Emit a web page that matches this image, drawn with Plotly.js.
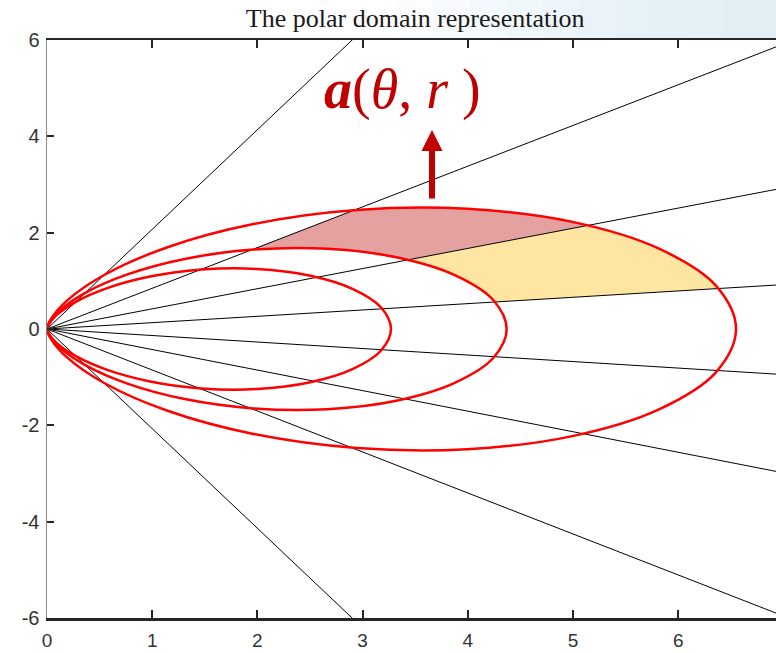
<!DOCTYPE html>
<html>
<head>
<meta charset="utf-8">
<script src="https://cdn.plot.ly/plotly-3.0.1.min.js"></script>
<style>html,body{margin:0;padding:0;background:#fff;}#chart{width:776px;height:653px;}</style>
</head>
<body>
<div id="chart"></div>
<script>
// Ray directions from the origin (degrees)
const rayAnglesDeg = [64.2, 40.2, 22.7, 7.5, -7.7, -23.1, -40.4, -64.2];

// Upper halves of the three closed curves (from the right tip back to the origin); lower halves are mirror images
const innerX = [3.27, 3.176, 2.904, 2.493, 1.994, 1.470, 0.980, 0.572, 0.275, 0.096, 0.017, 0];
const innerY = [0, 0.446, 0.833, 1.110, 1.246, 1.233, 1.088, 0.848, 0.565, 0.297, 0.097, 0];
const middleX = [4.37, 4.244, 3.881, 3.332, 2.665, 1.964, 1.309, 0.764, 0.368, 0.129, 0.023, 0];
const middleY = [0, 0.597, 1.113, 1.484, 1.665, 1.648, 1.454, 1.133, 0.755, 0.397, 0.130, 0];
const outerX = [6.55, 6.361, 5.818, 4.994, 3.995, 2.944, 1.962, 1.146, 0.552, 0.193, 0.034, 0];
const outerY = [0, 0.894, 1.668, 2.224, 2.496, 2.471, 2.179, 1.698, 1.131, 0.595, 0.195, 0];

// Highlighted cell a(θ, r): upper (pink) and lower (yellow) sectors
const pinkX = [1.947, 2.919, 3.468, 3.995, 4.509, 4.876, 5.143, 3.431, 3.253, 3.008, 2.665, 2.314, 1.947];
const pinkY = [1.646, 2.466, 2.520, 2.496, 2.397, 2.274, 2.151, 1.435, 1.517, 1.599, 1.666, 1.681, 1.646];
const yellowX = [3.431, 5.143, 5.537, 5.903, 6.196, 6.383, 4.259, 4.134, 3.938, 3.694, 3.431];
const yellowY = [1.435, 2.151, 1.907, 1.582, 1.204, 0.840, 0.561, 0.804, 1.055, 1.272, 1.435];

const labelText = '<b><i>a</i></b>(<i>θ</i>, <i>r</i> )';
const arrowTip = [3.66, 4.13];
const arrowTail = [3.66, 2.68];
const labelPos = [3.38, 4.97];

function closedCurve(ux, uy) {
  const xs = ux.slice().reverse().concat(ux.slice(1));
  const ys = uy.slice().reverse().concat(uy.slice(1).map(v => -v));
  return {xs, ys};
}

const traces = [];

traces.push({x: pinkX, y: pinkY, mode: 'lines', fill: 'toself', fillcolor: '#E5A0A0',
  line: {width: 0, color: 'rgba(0,0,0,0)'}, hoverinfo: 'skip', showlegend: false});
traces.push({x: yellowX, y: yellowY, mode: 'lines', fill: 'toself', fillcolor: '#FEE6A2',
  line: {width: 0, color: 'rgba(0,0,0,0)'}, hoverinfo: 'skip', showlegend: false});

// rays
const rx = [], ry = [];
rayAnglesDeg.forEach(a => {
  const t = a * Math.PI / 180;
  rx.push(0, 20 * Math.cos(t), null);
  ry.push(0, 20 * Math.sin(t), null);
});
traces.push({x: rx, y: ry, mode: 'lines', line: {color: '#000', width: 1}, hoverinfo: 'skip', showlegend: false});

[[innerX, innerY], [middleX, middleY], [outerX, outerY]].forEach(([ux, uy]) => {
  const c = closedCurve(ux, uy);
  traces.push({x: c.xs, y: c.ys, mode: 'lines', line: {color: '#FF0000', width: 2.5, shape: 'spline', smoothing: 1},
    hoverinfo: 'skip', showlegend: false});
});

// faint bluish header shading (top right of the source slide)
const shapes = [];
for (let i = 0; i < 10; i++) {
  shapes.push({type: 'rect', xref: 'paper', yref: 'paper', x0: 0.48 + i * 0.05, x1: 1.0, y0: 1.004, y1: 1.08,
    fillcolor: 'rgb(214,228,244)', opacity: 0.09, line: {width: 0}, layer: 'below'});
}

const layout = {
  width: 776, height: 653,
  margin: {l: 47, r: 0, t: 40, b: 35},
  paper_bgcolor: '#fff', plot_bgcolor: '#fff',
  showlegend: false,
  shapes: shapes,
  title: {text: 'The polar domain representation', x: 0.535, xanchor: 'center', y: 0.972, yanchor: 'middle',
    font: {family: 'Liberation Serif, Times New Roman, serif', size: 26, color: '#1a1a1a'}},
  xaxis: {range: [0, 6.93], tickvals: [0, 1, 2, 3, 4, 5, 6], ticktext: ['0','1','2','3','4','5','6'],
    showgrid: false, zeroline: false, showline: true, linecolor: '#262626', linewidth: 2.5, mirror: 'ticks',
    ticks: 'inside', ticklen: 8, tickwidth: 2, tickcolor: '#262626', ticklabelstandoff: 4,
    tickfont: {family: 'Liberation Sans, Arial, sans-serif', size: 19, color: '#333'}},
  yaxis: {range: [-6, 6], tickvals: [-6, -4, -2, 0, 2, 4, 6], ticktext: ['-6','-4','-2','0','2','4','6'],
    showgrid: false, zeroline: false, showline: true, linecolor: '#8a8a8a', linewidth: 1.5, mirror: false,
    ticks: 'inside', ticklen: 7, tickwidth: 2, tickcolor: '#262626', ticklabelstandoff: 2,
    tickfont: {family: 'Liberation Sans, Arial, sans-serif', size: 20, color: '#333'}},
  annotations: [
    {x: arrowTip[0], y: arrowTip[1], ax: arrowTail[0], ay: arrowTail[1], xref: 'x', yref: 'y', axref: 'x', ayref: 'y',
     text: '', showarrow: true, arrowhead: 2, arrowsize: 0.7, arrowwidth: 6, arrowcolor: '#C00000'},
    {x: labelPos[0], y: labelPos[1], xref: 'x', yref: 'y', text: labelText, showarrow: false,
     font: {family: 'Liberation Serif, DejaVu Serif, serif', size: 56, color: '#C00000'}}
  ]
};

Plotly.newPlot('chart', traces, layout, {staticPlot: true, displayModeBar: false});
</script>
</body>
</html>
